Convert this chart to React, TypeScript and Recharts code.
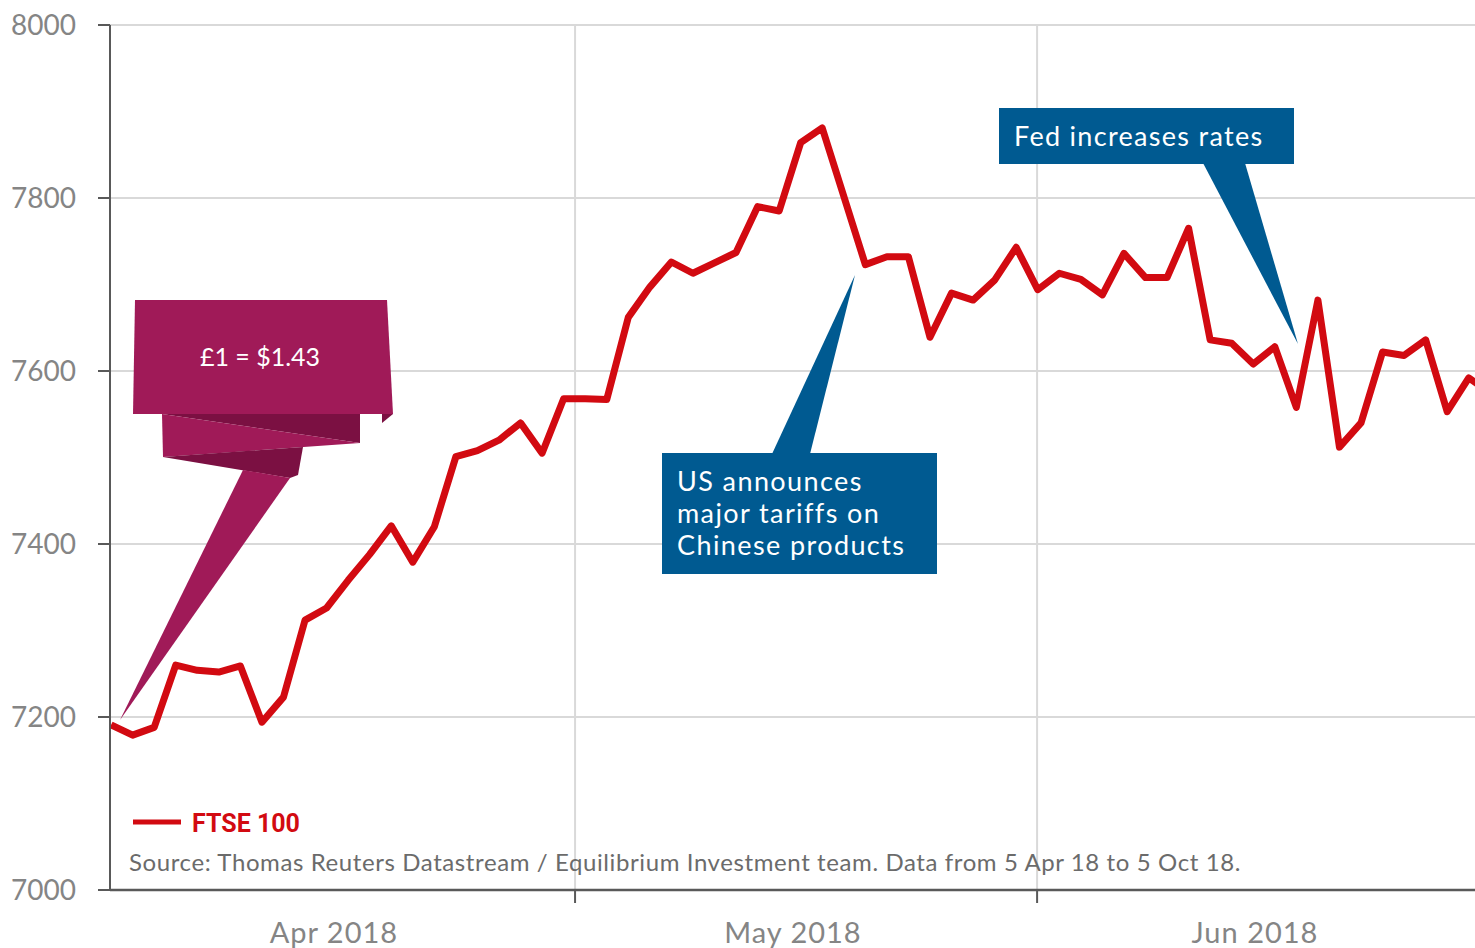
import { LineChart, Line, XAxis, YAxis, CartesianGrid, Customized } from 'recharts'

// FTSE 100 daily closes, one per trading day from 5 Apr 2018
const ftse = [
  7191, 7179, 7188, 7260, 7254, 7252, 7259, 7194, 7223, 7312,
  7326, 7358, 7388, 7421, 7379, 7420, 7501, 7508, 7520, 7540,
  7505, 7568, 7568, 7567, 7662, 7697, 7726, 7713, 7725, 7737,
  7790, 7785, 7864, 7881, 7802, 7723, 7732, 7732, 7639, 7690,
  7682, 7705, 7743, 7694, 7713, 7706, 7688, 7736, 7708, 7708,
  7765, 7636, 7632, 7608, 7628, 7558, 7682, 7512, 7540, 7622,
  7618, 7636, 7553, 7592, 7575,
]

const yTicks = [7000, 7200, 7400, 7600, 7800, 8000]
const monthLabels = ['Apr 2018', 'May 2018', 'Jun 2018']
const monthCenters = [10.34, 31.64, 53.08]
const monthBreaks = [21.53, 42.97]

const data = ftse.map((v, i) => ({ day: i, v }))

// plot geometry (chart is fixed size)
const W = 1475
const H = 948
const Y_AXIS_W = 110
const X_AXIS_H = 58
const TOP = 25
const X_DOMAIN: [number, number] = [-0.05, 63.29]
const xPx = (d: number) =>
  Y_AXIS_W + ((d - X_DOMAIN[0]) / (X_DOMAIN[1] - X_DOMAIN[0])) * (W - Y_AXIS_W)

const FONT = 'Lato, "Open Sans", sans-serif'
const AXIS = '#595959'
const BLUE = '#005a91'
const PLUM = '#a01a58'
const PLUM_DARK = '#7b1042'

const MonthTick = (props: any) => {
  const { x, y, payload } = props
  const idx = monthCenters.indexOf(payload.value)
  if (idx >= 0) {
    return (
      <text x={x} y={y + 53} textAnchor="middle" fill="#858585" fontSize={29} letterSpacing={1} fontFamily={FONT}>
        {monthLabels[idx]}
      </text>
    )
  }
  return <line x1={x} x2={x} y1={y} y2={y + 13} stroke={AXIS} strokeWidth={2} />
}

const Annotations = () => (
  <g>
    {/* £ ribbon */}
    <polygon points="135,300 387,300 393,414 133,414" fill={PLUM} />
    <polygon points="382,414 393,414 382,423" fill={PLUM_DARK} />
    <polygon points="162,414 360,414 360,443" fill={PLUM_DARK} />
    <polygon points="162,414 360,443 163,457" fill={PLUM} />
    <polygon points="163,457 303,447 298,475 290,478" fill={PLUM_DARK} />
    <polygon points="243,470 290,478 120,720" fill={PLUM} />
    <text x={260} y={366} textAnchor="middle" fill="#fff" fontSize={25} fontFamily={FONT}>
      £1 = $1.43
    </text>

    {/* tariffs */}
    <polygon points="772,454 810,454 855,275" fill={BLUE} />
    <rect x={662} y={453} width={275} height={121} fill={BLUE} />
    <text fill="#fff" fontSize={27} letterSpacing={1.4} fontFamily={FONT}>
      <tspan x={677} y={491}>US announces</tspan>
      <tspan x={677} y={523}>major tariffs on</tspan>
      <tspan x={677} y={555}>Chinese products</tspan>
    </text>

    {/* Fed */}
    <polygon points="1203,163 1245,163 1298,344" fill={BLUE} />
    <rect x={999} y={108} width={295} height={56} fill={BLUE} />
    <text x={1014} y={146} fill="#fff" fontSize={27} letterSpacing={1.3} fontFamily={FONT}>
      Fed increases rates
    </text>

    {/* legend + source */}
    <line x1={133} x2={181} y1={822} y2={822} stroke="#d20a11" strokeWidth={5} />
    <text x={192} y={832} fill="#d20a11" fontSize={25} fontWeight={700} fontFamily="Roboto, sans-serif">
      FTSE 100
    </text>
    <text x={129} y={871} fill="#6b6b6b" fontSize={24} letterSpacing={0.6} fontFamily={FONT}>
      Source: Thomas Reuters Datastream / Equilibrium Investment team. Data from 5 Apr 18 to 5 Oct 18.
    </text>
  </g>
)

export default function App() {
  return (
    <div style={{ position: 'absolute', left: 0, top: 0, background: '#fff' }}>
      <LineChart width={W} height={H} data={data} margin={{ top: TOP, right: 0, bottom: 0, left: 0 }}>
        <CartesianGrid
          stroke="#d9d9d9"
          strokeWidth={2}
          verticalPoints={monthBreaks.map(xPx)}
        />
        <XAxis
          dataKey="day"
          type="number"
          domain={X_DOMAIN}
          allowDataOverflow
          ticks={[...monthCenters, ...monthBreaks].sort((a, b) => a - b)}
          interval={0}
          tick={<MonthTick />}
          tickLine={false}
          tickSize={0}
          tickMargin={0}
          height={X_AXIS_H}
          axisLine={{ stroke: AXIS, strokeWidth: 2.5 }}
        />
        <YAxis
          type="number"
          domain={[7000, 8000]}
          ticks={yTicks}
          interval={0}
          width={Y_AXIS_W}
          tickSize={12}
          tickMargin={22}
          axisLine={{ stroke: AXIS, strokeWidth: 2 }}
          tickLine={{ stroke: AXIS, strokeWidth: 2 }}
          tick={{ fill: '#858585', fontSize: 28, fontFamily: FONT }}
        />
        <Line
          dataKey="v"
          stroke="#d20a11"
          strokeWidth={7}
          strokeLinejoin="round"
          dot={false}
          activeDot={false}
          isAnimationActive={false}
        />
        <Customized component={Annotations} />
      </LineChart>
    </div>
  )
}
